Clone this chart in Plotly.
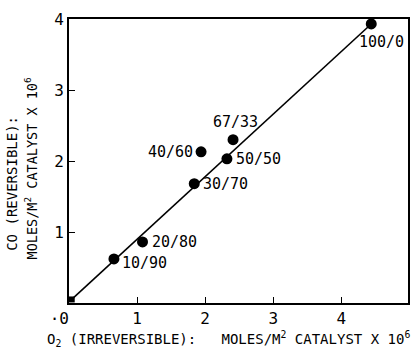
import plotly.graph_objects as go

# O2 (irreversible) vs CO (reversible) uptake, moles/m^2 catalyst x 10^6
o2_uptake = [0.04, 0.66, 1.08, 1.84, 1.94, 2.32, 2.41, 4.44]
co_uptake = [0.05, 0.62, 0.86, 1.68, 2.13, 2.03, 2.30, 3.93]
labels = ["", "10/90", "20/80", "30/70", "40/60", "50/50", "67/33", "100/0"]

# correlation line through the data
fit_x = [0.04, 4.44]
fit_y = [0.05, 3.93]

x_ticks = [0, 1, 2, 3, 4]
x_tick_text = ["\u00b70\u00a0\u00a0", "1", "2", "3", "4"]
y_ticks = [1, 2, 3, 4]

FONT = "DejaVu Sans Mono"

fig = go.Figure()
fig.add_trace(go.Scatter(x=fit_x, y=fit_y, mode="lines",
                         line=dict(color="black", width=1.6),
                         showlegend=False, hoverinfo="skip"))
fig.add_trace(go.Scatter(x=o2_uptake[1:], y=co_uptake[1:], mode="markers",
                         marker=dict(color="black", size=11),
                         showlegend=False))
fig.add_trace(go.Scatter(x=o2_uptake[:1], y=co_uptake[:1], mode="markers",
                         marker=dict(color="black", size=6, symbol="square"),
                         showlegend=False))

# label placement: (xanchor, yanchor, xshift, yshift)
placement = {
    "10/90": ("left", "middle", 6, -4),
    "20/80": ("left", "middle", 7, 0),
    "30/70": ("left", "middle", 7, 0),
    "40/60": ("right", "middle", -6, 0),
    "50/50": ("left", "middle", 7, 0),
    "67/33": ("center", "bottom", 2, 7),
    "100/0": ("center", "top", 10, -7),
}
for xv, yv, lab in zip(o2_uptake, co_uptake, labels):
    if not lab:
        continue
    xa, ya, xs, ys = placement[lab]
    fig.add_annotation(x=xv, y=yv, text=lab, showarrow=False,
                       xanchor=xa, yanchor=ya, xshift=xs, yshift=ys,
                       font=dict(family=FONT, size=15, color="black"))

# axis titles
fig.add_annotation(xref="paper", yref="paper", x=-0.07, y=-0.125,
                   xanchor="left", yanchor="middle", showarrow=False,
                   text="O<sub>2</sub> (IRREVERSIBLE):\u00a0\u00a0\u00a0MOLES/M<sup>2</sup> CATALYST X 10<sup>6</sup>",
                   font=dict(family=FONT, size=14, color="black"))
fig.add_annotation(xref="paper", yref="paper", x=-0.167, y=0.421,
                   xanchor="center", yanchor="middle", showarrow=False,
                   textangle=-90, text="CO (REVERSIBLE):",
                   font=dict(family=FONT, size=14, color="black"))
fig.add_annotation(xref="paper", yref="paper", x=-0.111, y=0.475,
                   xanchor="center", yanchor="middle", showarrow=False,
                   textangle=-90,
                   text="MOLES/M<sup>2</sup> CATALYST X 10<sup>6</sup>",
                   font=dict(family=FONT, size=13.5, color="black"))

fig.update_xaxes(range=[0, 4.98], tickvals=x_ticks, ticktext=x_tick_text,
                 ticks="inside", ticklen=6, tickwidth=1.3, tickcolor="black",
                 showline=True, linecolor="black", linewidth=1.5, mirror=True,
                 showgrid=False, zeroline=False,
                 tickfont=dict(family=FONT, size=16, color="black"))
fig.update_yaxes(range=[0, 4], tickvals=y_ticks,
                 ticks="inside", ticklen=6, tickwidth=1.3, tickcolor="black",
                 showline=True, linecolor="black", linewidth=1.8, mirror=True,
                 showgrid=False, zeroline=False,
                 tickfont=dict(family=FONT, size=16, color="black"))

fig.update_layout(width=420, height=351,
                  margin=dict(l=69, r=10, t=18, b=48),
                  paper_bgcolor="white", plot_bgcolor="white")

fig.write_html("out.html")
